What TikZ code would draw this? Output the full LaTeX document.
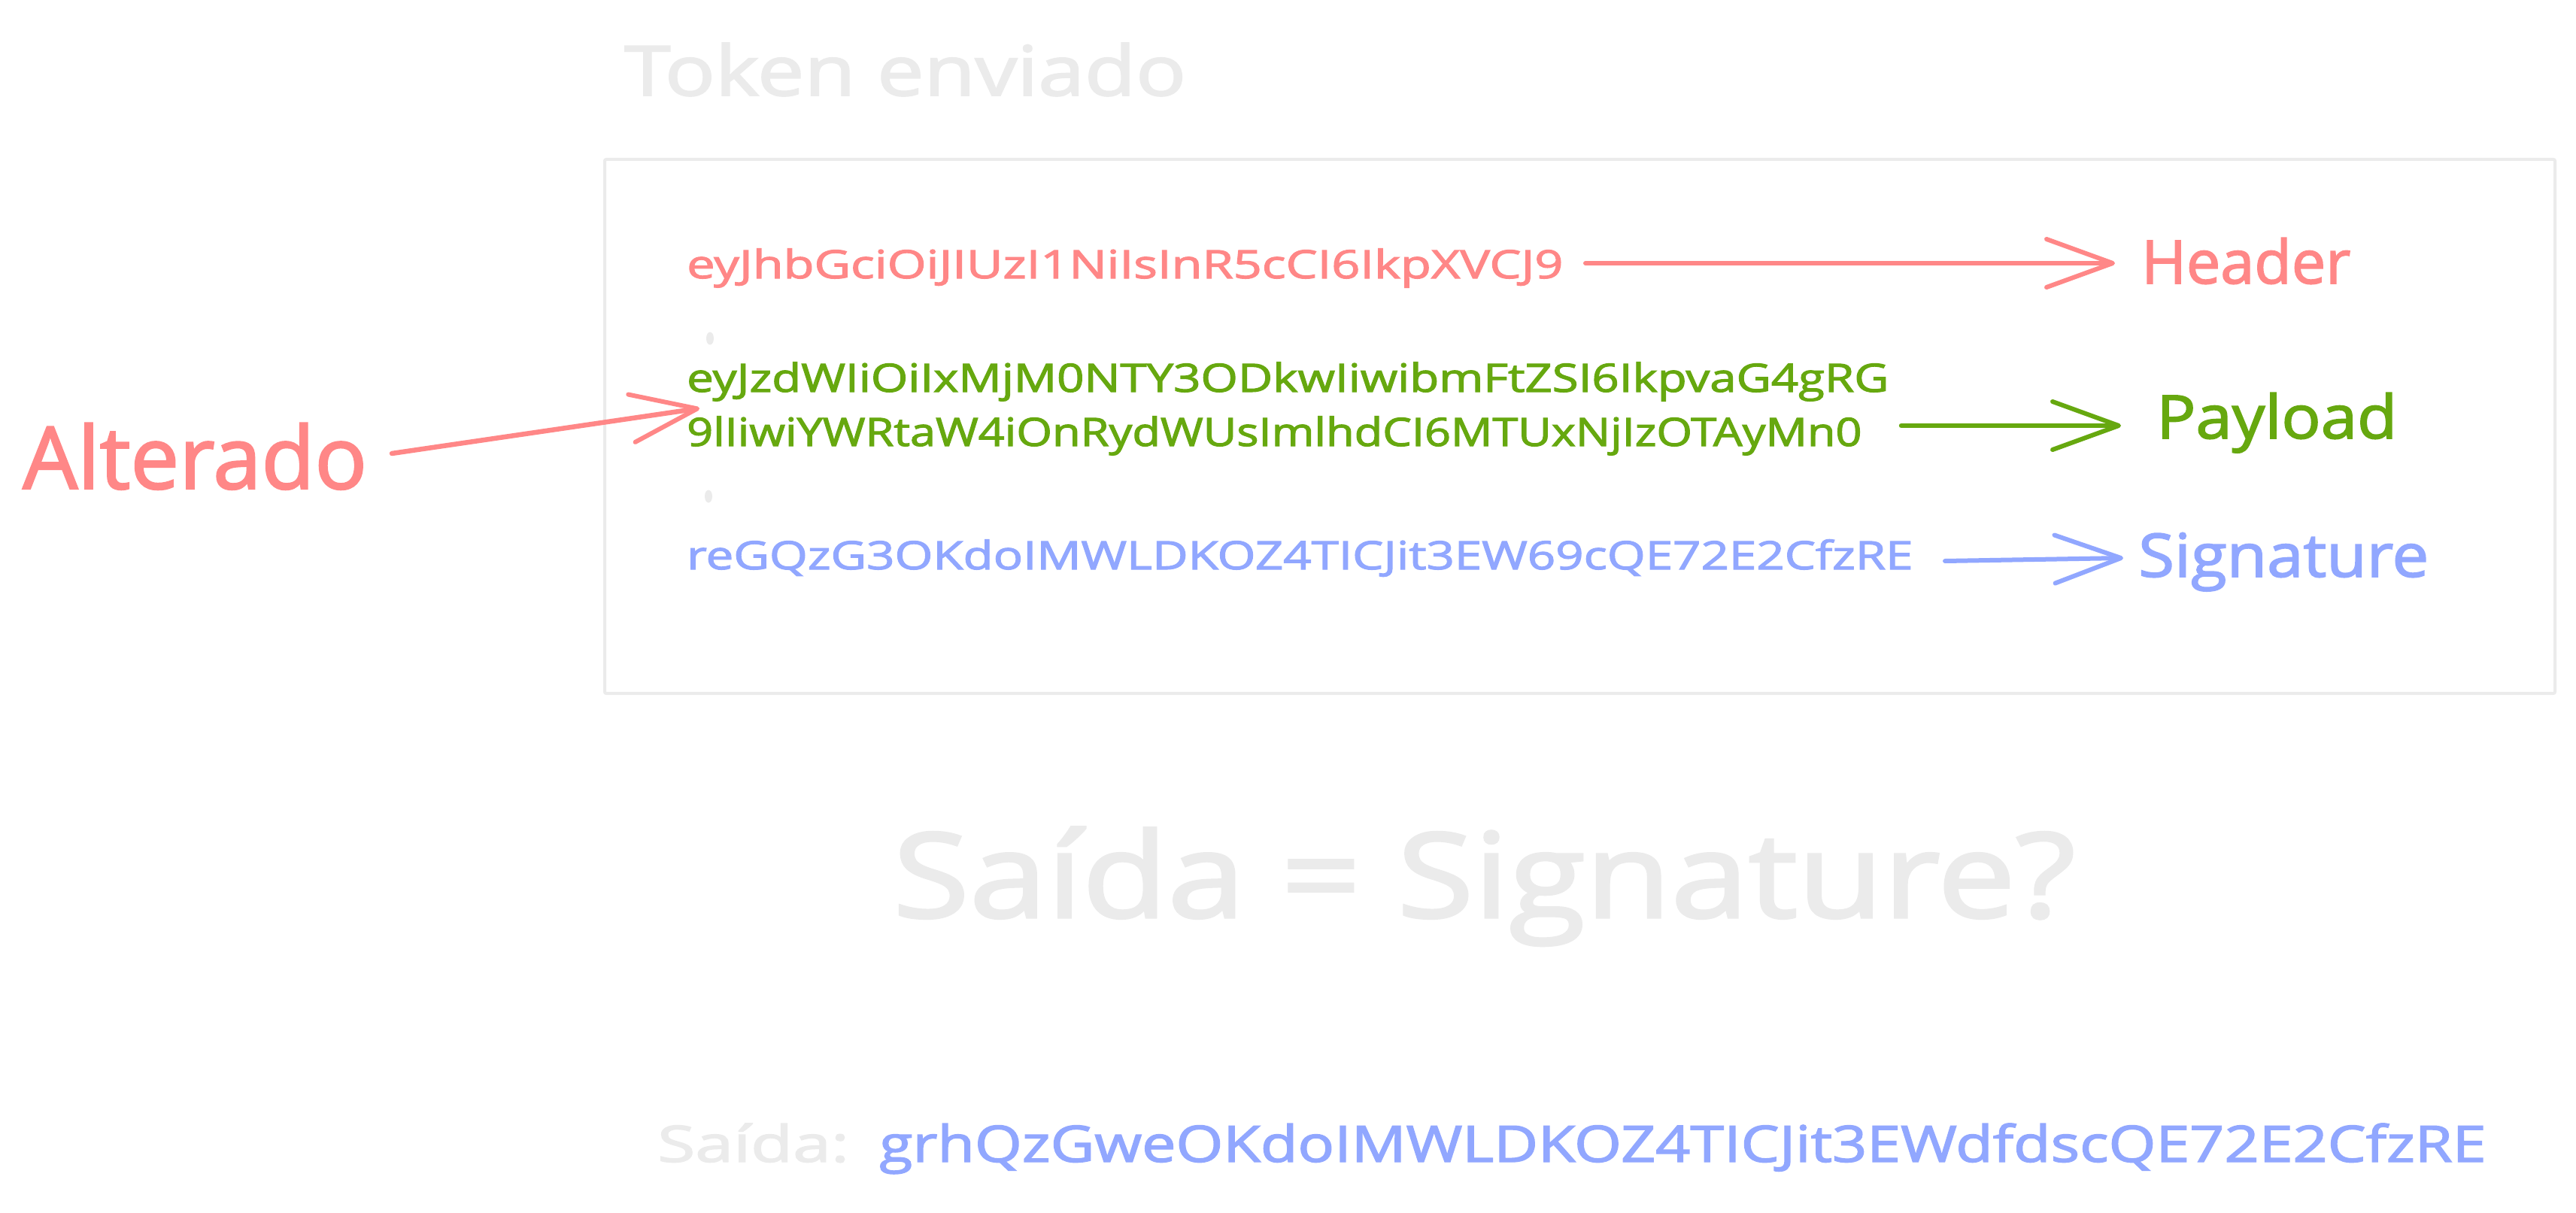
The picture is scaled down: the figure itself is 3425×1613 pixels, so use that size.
\documentclass[tikz,border=0pt]{standalone}
\usepackage{fontspec}
\newfontfamily\handfont{Open Sans}[FakeBold=2]
\usetikzlibrary{arrows.meta}
\definecolor{exred}{HTML}{FF8787}
\definecolor{exgreen}{HTML}{66A80F}
\definecolor{exblue}{HTML}{91A7FF}
\definecolor{exgray}{HTML}{EBEBEB}
\newcommand\fw[3]{\fontsize{#2}{#2}\selectfont\resizebox{#1pt}{\height}{#3}}
\begin{document}
\begin{tikzpicture}[x=1pt,y=-1pt,
  lbl/.style={inner sep=0pt, anchor=base west, font=\handfont},
  arr/.style={line width=6pt, line cap=round, line join=round,
    -{Straight Barb[length=88pt,width=64pt,round,line width=6pt]}},
  dotmark/.style={fill=exgray, draw=none}]
\useasboundingbox (0,0) rectangle (3425,1613);
\fill[white] (0,0) rectangle (3425,1613);

% title and frame
\node[lbl, text=exgray] (title) at (830,127) {\fw{747}{92}{Token enviado}};
\draw[exgray, line width=4pt, rounded corners=2pt] (804,212) rectangle (3397,922);

% header
\node[lbl, text=exred] (hdr) at (913,370) {\fw{1165}{52}{eyJhbGciOiJIUzI1NiIsInR5cCI6IkpXVCJ9}};
\node[lbl, text=exred] (hlab) at (2847,377) {\fw{278}{80}{Header}};
\coordinate (hs) at (2108,350);
\coordinate (he) at (2812,350);
\draw[arr, exred] (hs) -- (he);

% dots
\fill[dotmark] (944,450) ellipse (5 and 8.5);
\fill[dotmark] (942,660) ellipse (5 and 8.5);

% payload
\node[lbl, text=exgreen] (pl1) at (913,521) {\fw{1598}{52}{eyJzdWIiOiIxMjM0NTY3ODkwIiwibmFtZSI6IkpvaG4gRG}};
\node[lbl, text=exgreen] (pl2) at (913,593) {\fw{1562}{52}{9lIiwiYWRtaW4iOnRydWUsImlhdCI6MTUxNjIzOTAyMn0}};
\node[lbl, text=exgreen] (plab) at (2867,583) {\fw{320}{80}{Payload}};
\coordinate (ps) at (2528,566);
\coordinate (pe) at (2820,566);
\draw[arr, exgreen, line width=6.5pt] (ps) -- (pe);

% signature
\node[lbl, text=exblue] (sig) at (913,757) {\fw{1630}{52}{reGQzG3OKdoIMWLDKOZ4TICJit3EW69cQE72E2CfzRE}};
\node[lbl, text=exblue] (slab) at (2843,767) {\fw{386}{80}{Signature}};
\coordinate (ss) at (2586,746);
\coordinate (se) at (2823,742);
\draw[arr, exblue] (ss) -- (se);

% altered
\node[lbl, text=exred] (alt) at (30,650) {\fw{458}{115}{Alterado}};
\coordinate (as) at (521,603);
\coordinate (ae) at (930,543);
\draw[arr, exred, line width=6.5pt] (as) -- (ae);

% comparison
\node[lbl, text=exgray] (cmp) at (1187,1220) {\fw{1572}{157}{Saída = Signature?}};
\node[lbl, text=exgray] (outl) at (874,1545) {\fw{255}{67}{Saída:}};
\node[lbl, text=exblue] (outv) at (1169,1545) {\fw{2136}{67}{grhQzGweOKdoIMWLDKOZ4TICJit3EWdfdscQE72E2CfzRE}};
\end{tikzpicture}
\end{document}
